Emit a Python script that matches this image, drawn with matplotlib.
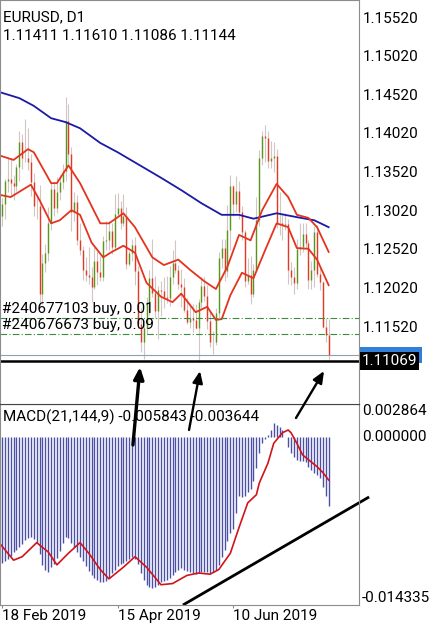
import numpy as np
import matplotlib
matplotlib.use("Agg")
from matplotlib import pyplot as plt
from matplotlib.patches import Rectangle

plt.rcParams['font.family'] = ['Roboto', 'DejaVu Sans']

# EURUSD D1 bars, 18 Feb 2019 .. 25 Jul 2019 (bar index 0 = 18 Feb)
opens = [1.1295, 1.1310, 1.1340, 1.1342, 1.1337, 1.1333, 1.1358, 1.1390, 1.1370, 1.1370,
         1.1365, 1.1338, 1.1307, 1.1307, 1.1193, 1.1234, 1.1246, 1.1286, 1.1329, 1.1305,
         1.1325, 1.1339, 1.1353, 1.1418, 1.1375, 1.1300, 1.1313, 1.1263, 1.1250, 1.1224,
         1.1218, 1.1215, 1.1203, 1.1236, 1.1222, 1.1216, 1.1262, 1.1264, 1.1275, 1.1255,
         1.1297, 1.1305, 1.1286, 1.1295, 1.1232, 1.1246, 1.1257, 1.1223, 1.1155, 1.1132,
         1.1150, 1.1183, 1.1214, 1.1195, 1.1171, 1.1199, 1.1198, 1.1190, 1.1189, 1.1215,
         1.1234, 1.1224, 1.1206, 1.1202, 1.1173, 1.1157, 1.1163, 1.1160, 1.1150, 1.1183,
         1.1204, 1.1191, 1.1159, 1.1131, 1.1132, 1.1169, 1.1240, 1.1253, 1.1223, 1.1276,
         1.1333, 1.1310, 1.1327, 1.1300, 1.1274, 1.1211, 1.1218, 1.1193, 1.1225, 1.1289,
         1.1370, 1.1398, 1.1395, 1.1366, 1.1370, 1.1372, 1.1286, 1.1285, 1.1283, 1.1284,
         1.1225, 1.1215, 1.1208, 1.1252, 1.1254, 1.1271, 1.1259, 1.1212, 1.1224, 1.1274,
         1.1219, 1.1209, 1.1151, 1.11411]
highs = [1.1318, 1.1342, 1.1371, 1.1370, 1.1348, 1.1362, 1.1404, 1.1400, 1.1420, 1.1408,
         1.1375, 1.1350, 1.1322, 1.1335, 1.1245, 1.1258, 1.1306, 1.1338, 1.1338, 1.1345,
         1.1347, 1.1362, 1.1448, 1.1440, 1.1384, 1.1326, 1.1322, 1.1286, 1.1256, 1.1242,
         1.1255, 1.1229, 1.1255, 1.1249, 1.1243, 1.1269, 1.1288, 1.1288, 1.1285, 1.1323,
         1.1324, 1.1314, 1.1323, 1.1306, 1.1249, 1.1265, 1.1267, 1.1230, 1.1175, 1.1160,
         1.1190, 1.1224, 1.1265, 1.1217, 1.1204, 1.1210, 1.1216, 1.1217, 1.1230, 1.1250,
         1.1264, 1.1231, 1.1226, 1.1214, 1.1188, 1.1178, 1.1180, 1.1181, 1.1187, 1.1215,
         1.1216, 1.1205, 1.1172, 1.1146, 1.1176, 1.1248, 1.1265, 1.1265, 1.1309, 1.1348,
         1.1335, 1.1346, 1.1340, 1.1307, 1.1277, 1.1240, 1.1243, 1.1232, 1.1319, 1.1380,
         1.1404, 1.1412, 1.1405, 1.1392, 1.1390, 1.1381, 1.1325, 1.1298, 1.1298, 1.1290,
         1.1235, 1.1229, 1.1265, 1.1285, 1.1286, 1.1285, 1.1263, 1.1236, 1.1282, 1.1283,
         1.1228, 1.1211, 1.1163, 1.11610]
lows = [1.1282, 1.1290, 1.1326, 1.1320, 1.1315, 1.1327, 1.1340, 1.1355, 1.1365, 1.1354,
        1.1320, 1.1295, 1.1290, 1.1176, 1.1180, 1.1222, 1.1236, 1.1277, 1.1295, 1.1298,
        1.1315, 1.1330, 1.1340, 1.1362, 1.1275, 1.1288, 1.1257, 1.1244, 1.1212, 1.1210,
        1.1207, 1.1183, 1.1200, 1.1205, 1.1210, 1.1210, 1.1250, 1.1250, 1.1245, 1.1252,
        1.1295, 1.1278, 1.1282, 1.1226, 1.1230, 1.1236, 1.1205, 1.1150, 1.1118, 1.1110,
        1.1142, 1.1167, 1.1190, 1.1163, 1.1135, 1.1165, 1.1176, 1.1182, 1.1178, 1.1207,
        1.1221, 1.1200, 1.1177, 1.1170, 1.1155, 1.1150, 1.1145, 1.1148, 1.1107, 1.1175,
        1.1185, 1.1148, 1.1125, 1.1116, 1.1128, 1.1162, 1.1227, 1.1211, 1.1215, 1.1250,
        1.1295, 1.1300, 1.1290, 1.1264, 1.1203, 1.1207, 1.1181, 1.1190, 1.1225, 1.1282,
        1.1360, 1.1365, 1.1356, 1.1356, 1.1351, 1.1279, 1.1270, 1.1264, 1.1276, 1.1207,
        1.1205, 1.1193, 1.1200, 1.1244, 1.1248, 1.1253, 1.1200, 1.1200, 1.1202, 1.1215,
        1.1199, 1.1150, 1.1131, 1.11086]
closes = [1.1310, 1.1340, 1.1342, 1.1337, 1.1333, 1.1358, 1.1390, 1.1370, 1.1370, 1.1365,
          1.1338, 1.1307, 1.1307, 1.1193, 1.1234, 1.1246, 1.1286, 1.1329, 1.1305, 1.1325,
          1.1339, 1.1353, 1.1418, 1.1375, 1.1300, 1.1313, 1.1263, 1.1250, 1.1224, 1.1218,
          1.1215, 1.1203, 1.1236, 1.1222, 1.1216, 1.1262, 1.1264, 1.1275, 1.1255, 1.1297,
          1.1305, 1.1286, 1.1295, 1.1232, 1.1246, 1.1257, 1.1223, 1.1155, 1.1132, 1.1150,
          1.1183, 1.1214, 1.1195, 1.1171, 1.1199, 1.1198, 1.1190, 1.1189, 1.1215, 1.1234,
          1.1224, 1.1206, 1.1202, 1.1173, 1.1157, 1.1163, 1.1160, 1.1150, 1.1183, 1.1204,
          1.1191, 1.1159, 1.1131, 1.1132, 1.1169, 1.1240, 1.1253, 1.1223, 1.1276, 1.1333,
          1.1310, 1.1327, 1.1300, 1.1274, 1.1211, 1.1218, 1.1193, 1.1225, 1.1289, 1.1370,
          1.1398, 1.1395, 1.1366, 1.1370, 1.1372, 1.1286, 1.1285, 1.1283, 1.1284, 1.1225,
          1.1215, 1.1208, 1.1252, 1.1254, 1.1271, 1.1259, 1.1212, 1.1224, 1.1274, 1.1219,
          1.1209, 1.1151, 1.1141, 1.11144]

# moving averages (bar index, price)
ma_slow_idx = [-1, 6, 11, 17, 22, 27, 34, 40, 45, 55, 62, 69, 76, 82, 87, 95, 102, 108, 113]
ma_slow = [1.1455, 1.1447, 1.1437, 1.1421, 1.1416, 1.1408, 1.1389, 1.1377, 1.1366, 1.1344,
           1.1328, 1.1311, 1.1296, 1.1296, 1.1291, 1.1298, 1.1293, 1.1289, 1.1280]
ma_up_idx = [-1, 4, 9, 11, 17, 19, 23, 27, 34, 37, 42, 46, 52, 56, 61, 65, 70, 74, 78, 82,
             86, 90, 95, 99, 102, 106, 109, 113]
ma_up = [1.1373, 1.1367, 1.1381, 1.1377, 1.1337, 1.1337, 1.1360, 1.1337, 1.1285, 1.1285,
         1.1298, 1.1280, 1.1241, 1.1231, 1.1238, 1.1225, 1.1210, 1.1200, 1.1229, 1.1270,
         1.1263, 1.1302, 1.1336, 1.1319, 1.1296, 1.1292, 1.1280, 1.1248]
ma_low_idx = [-1, 3, 10, 13, 17, 20, 24, 27, 31, 35, 38, 42, 46, 50, 55, 59, 62, 67, 71, 74,
              76, 79, 83, 87, 91, 95, 99, 102, 106, 109, 113]
ma_low = [1.1322, 1.1319, 1.1335, 1.1315, 1.1285, 1.1289, 1.1302, 1.1296, 1.1260, 1.1241,
          1.1248, 1.1256, 1.1247, 1.1208, 1.1190, 1.1183, 1.1194, 1.1170, 1.1177, 1.1160,
          1.1161, 1.1192, 1.1221, 1.1214, 1.1250, 1.1285, 1.1280, 1.1253, 1.1252, 1.1238,
          1.1205]

# MACD(21,144,9), in units of 0.001
macd_hist = [-10.7, -10.6, -10.4, -10.1, -9.8, -9.6, -9.4, -9.1, -8.8, -8.6,
             -8.5, -8.7, -9.0, -10.0, -10.9, -11.3, -11.5, -11.1, -10.8, -10.3,
             -9.7, -9.0, -8.5, -8.6, -9.0, -9.4, -9.8, -10.2, -10.6, -11.0,
             -11.4, -11.8, -12.0, -12.2, -12.4, -12.4, -12.3, -12.0, -11.6, -11.3,
             -11.0, -10.8, -10.7, -10.6, -10.4, -10.2, -10.4, -10.8, -11.6, -12.2,
             -12.6, -12.8, -12.9, -12.8, -12.6, -12.4, -12.3, -12.2, -12.0, -11.8,
             -11.5, -11.3, -11.2, -11.3, -11.4, -11.5, -11.6, -11.7, -11.6, -11.5,
             -11.5, -11.5, -11.6, -11.5, -11.3, -10.9, -10.2, -9.6, -8.9, -8.2,
             -7.8, -6.5, -5.0, -5.1, -5.0, -4.7, -4.4, -3.7, -2.6, -1.3,
             -0.5, -0.1, 0.2, 0.6, 1.2, 1.1, 0.9, 0.6, 0.0, -0.8,
             -1.3, -1.7, -1.9, -2.0, -2.0, -2.1, -2.5, -2.8, -3.0, -3.2,
             -3.5, -4.2, -5.0, -5.843]
signal_idx = [-1, 4, 7, 12, 16, 19, 23, 27, 30, 34, 37, 42, 46, 50, 55, 59, 64, 68, 72, 75,
              79, 82, 85, 88, 89, 92, 94, 97, 99, 100, 102, 104, 107, 109, 111, 113]
signal = [-9.0, -10.5, -10.2, -9.0, -9.8, -10.9, -9.9, -9.0, -9.9, -11.3,
          -12.1, -11.1, -10.2, -11.1, -12.6, -12.5, -11.8, -11.6, -11.7, -11.3,
          -9.9, -7.7, -5.6, -4.9, -3.9, -2.2, -0.5, 0.4, 0.64, 0.4,
          -0.5, -1.5, -2.1, -2.5, -3.0, -3.644]

price_levels = [1.15520, 1.15020, 1.14520, 1.14020, 1.13520, 1.13020, 1.12520, 1.12020, 1.11520]
orders = [("#240677103 buy, 0.01", 1.11625), ("#240676673 buy, 0.09", 1.11418)]
bid = 1.11144
hline = 1.11069
date_ticks = [0, 40, 80]
date_labels = ["18 Feb 2019", "15 Apr 2019", "10 Jun 2019"]

# hand-drawn arrows: (tail, head) in (bar, price); trend line in (bar, macd)
arrows = [((45.3, 1.09982), (47.75, 1.10991), 2.4),
          ((64.7, 1.10176), (68.5, 1.10939), 1.7),
          ((101.7, 1.10331), (111.4, 1.10939), 1.7)]
trend = ((62.6, -14.335), (127.0, -5.09))

o = np.array(opens)
h = np.array(highs)
l = np.array(lows)
c = np.array(closes)
x = np.arange(len(c))
up = c >= o

fs = 11
grey = '#8c8c8c'
fig = plt.figure(figsize=(4.34, 6.25), dpi=100)
ax = fig.add_axes([0, 221 / 625, 359 / 434, 404 / 625])
ax2 = fig.add_axes([0, 20 / 625, 359 / 434, 201 / 625])
ax.set_zorder(3)

# price window
ax.vlines(x, l, h, color='#d3c5c1', lw=0.8)
ax.vlines(x[up], o[up], c[up], color='#5a951c', lw=1.0)
ax.vlines(x[~up], o[~up], c[~up], color='#e23a26', lw=1.0)
ax.plot(ma_slow_idx, ma_slow, color='#1a1aa6', lw=1.3)
ax.plot(ma_up_idx, ma_up, color='#e5331f', lw=1.3)
ax.plot(ma_low_idx, ma_low, color='#e5331f', lw=1.3)

for label, p in orders:
    ax.axhline(p, color='#3f8a3f', lw=0.8, dashes=(6, 2, 1, 2))
    ax.annotate(label, xy=(0.006, p), xycoords=('axes fraction', 'data'),
                xytext=(0, 6.3), textcoords='offset points', va='center', fontsize=fs)
ax.axhline(bid, color='#8d9fb0', lw=0.8)
ax.axhline(hline, color='black', lw=1.8)

ax.set_xlim(-0.69, 123.5)
ax.set_ylim(1.10512, 1.15740)
ax.set_xticks([])
ax.yaxis.tick_right()
ax.set_yticks(price_levels)
ax.set_yticklabels(['%.5f' % v for v in price_levels])
ax.tick_params(axis='y', length=0, pad=3, labelsize=fs)
for s in ax.spines.values():
    s.set_color(grey)
    s.set_linewidth(0.8)
ax.spines['bottom'].set_color('#444444')

# current bid box (mostly hidden) and the line price box
ytr = ax.get_yaxis_transform()
ax.add_patch(Rectangle((1.003, bid - 0.00104), 0.172, 0.00208, transform=ytr,
                       fc='#2f80d8', ec='none', clip_on=False))
ax.text(1.008, hline, '%.5f' % hline, transform=ytr, va='center', ha='left', fontsize=fs,
        color='white', bbox=dict(boxstyle='square,pad=0.12', fc='black', ec='none'))

ax.text(0.008, 0.958, 'EURUSD, D1', transform=ax.transAxes, va='center', fontsize=fs)
ax.text(0.008, 0.911, '%.5f %.5f %.5f %.5f' % (o[-1], h[-1], l[-1], c[-1]),
        transform=ax.transAxes, va='center', fontsize=fs)

for tail, head, w in arrows:
    ax.annotate('', xy=head, xytext=tail, annotation_clip=False,
                arrowprops=dict(arrowstyle='-|>,head_length=0.7,head_width=0.3',
                                lw=w, color='black', shrinkA=0, shrinkB=0))

# MACD window
hist = np.array(macd_hist) * 0.001
ax2.vlines(x, 0, hist, color='#4b50a6', lw=1.0)
ax2.plot(signal_idx, np.array(signal) * 0.001, color='#d0141a', lw=1.2)
ax2.plot([trend[0][0], trend[1][0]], [trend[0][1] * 0.001, trend[1][1] * 0.001],
         color='black', lw=2.0, clip_on=False, solid_capstyle='butt')
ax2.set_xlim(-0.69, 123.5)
ax2.set_ylim(-0.014335, 0.002864)
ax2.set_yticks([])
ax2.set_xticks(date_ticks)
ax2.set_xticklabels(date_labels, ha='left')
ax2.tick_params(axis='x', length=2.5, color=grey, pad=0.5, labelsize=fs)
for s in ax2.spines.values():
    s.set_color(grey)
    s.set_linewidth(0.8)
ax2.spines['top'].set_color('#444444')

ytr2 = ax2.get_yaxis_transform()
ax2.text(1.008, 0.002864, '0.002864', transform=ytr2, va='top', fontsize=fs)
ax2.text(1.008, 0.0, '0.000000', transform=ytr2, va='center', fontsize=fs)
ax2.text(1.008, -0.014335, '-0.014335', transform=ytr2, va='bottom', fontsize=fs)
ax2.text(0.008, 0.935, 'MACD(21,144,9) %.6f %.6f' % (hist[-1], signal[-1] * 0.001),
         transform=ax2.transAxes, va='center', fontsize=fs)

fig.savefig('out.png', dpi=100)
